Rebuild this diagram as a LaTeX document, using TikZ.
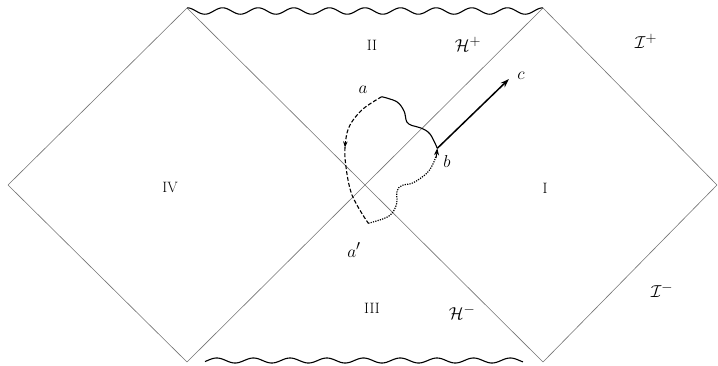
\documentclass[tikz,border=0pt]{standalone}
\usetikzlibrary{arrows.meta,decorations.markings}
\begin{document}
\begin{tikzpicture}[x=1pt,y=-1pt,
  edge/.style={draw=black!55, line width=0.6pt},
  sing/.style={draw=black, line width=1.1pt},
  roman/.style={font=\fontsize{15}{17}\selectfont, inner sep=0pt},
  mlbl/.style={font=\fontsize{19}{21}\selectfont, inner sep=0pt},
  solidpath/.style={draw=black, line width=1.1pt},
  dashpath/.style={draw=black, line width=1.1pt, dash pattern=on 4pt off 2pt},
  dotpath/.style={draw=black, line width=1.2pt, dash pattern=on 1.2pt off 1.2pt}]
\useasboundingbox (0,0) rectangle (718,365);
% vertices
\coordinate (L) at (8,185);
\coordinate (TL) at (187,8);
\coordinate (BL) at (187,362);
\coordinate (TR) at (543,8);
\coordinate (BR) at (543,362);
\coordinate (R) at (717,185);
% boundaries and horizons
\draw[edge] (L) -- (TL);
\draw[edge] (L) -- (BL);
\draw[edge] (TL) -- (BR);
\draw[edge] (BL) -- (TR);
\draw[edge] (TR) -- (R);
\draw[edge] (R) -- (BR);
% singularities
\draw[sing] plot[domain=187:543, samples=400] (\x, {11-3.2*cos((\x-187)*10.11236)});
\draw[sing] plot[domain=205:523, samples=400] (\x, {360.5-2.5*cos((\x-216.7)*9.80926)});
% region labels
\node[roman] (rII) at (372,45) {II};
\node[roman] (rIII) at (372,308) {III};
\node[roman] (rIV) at (170,187) {IV};
\node[roman] (rI) at (545,188) {I};
\node[mlbl] (hp) at (468,44) {$\mathcal{H}^{+}$};
\node[mlbl] (hm) at (462,312) {$\mathcal{H}^{-}$};
\node[mlbl] (ip) at (646,41) {$\mathcal{I}^{+}$};
\node[mlbl] (im) at (662,290) {$\mathcal{I}^{-}$};
% curve points
\coordinate (a) at (381.7,96.7);
\coordinate (b) at (437.3,148.3);
\coordinate (ap) at (368.3,223.3);
\coordinate (c) at (509,79);
\node[mlbl] (la) at (363,90) {$a$};
\node[mlbl] (lb) at (447,161) {$b$};
\node[mlbl] (lc) at (521,76) {$c$};
\node[mlbl] (lap) at (354,250) {$a'$};
% solid curve a -> b
\draw[solidpath] plot[smooth, tension=0.6] coordinates {(a) (396.7,101.7) (404,111) (406.7,121.7) (412,125.5) (421,128) (430,134) (b)};
% dashed curve a -> a' corner
\draw[dashpath, postaction={decorate}, decoration={markings, mark=at position 0.45 with {\arrow{Stealth[length=6pt,width=4.5pt]}}}]
  plot[smooth, tension=0.6] coordinates {(a) (363,109) (350,125) (345.5,142) (345.5,163) (352,195) (ap)};
% dotted curve a' -> b
\draw[dotpath] plot[smooth, tension=0.6] coordinates {(ap) (384,218.5) (392,213.3) (396.7,203.3) (397,191) (402,185.5) (413.3,182.7) (426.7,173.3) (433.3,163.3) (436.8,153)};
\draw[-{Stealth[length=7pt,width=5pt]}, line width=0.8pt] (436.2,158) -- (b);
% arrow b -> c
\draw[line width=1.5pt, -{Stealth[length=9pt,width=6pt]}] (b) -- (c);
\end{tikzpicture}
\end{document}
